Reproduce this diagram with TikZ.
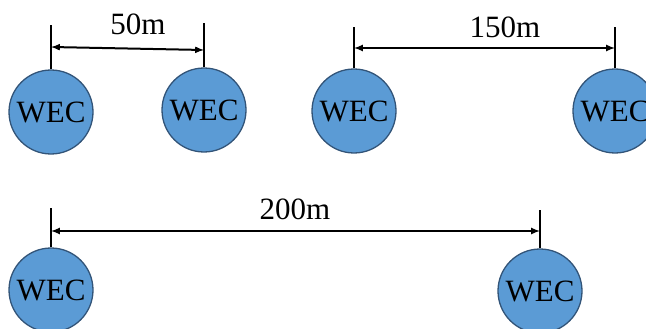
\documentclass[tikz,border=0pt]{standalone}
\usepackage{fontspec}
\setmainfont{Liberation Serif}
\usepackage{tikz}
\usetikzlibrary{calc}

\definecolor{wecfill}{RGB}{91,155,213}
\definecolor{wecdraw}{RGB}{50,84,120}

\tikzset{
  wec/.style={circle, draw=wecdraw, line width=1.3pt, fill=wecfill,
    minimum size=84pt, inner sep=0pt, font=\fontsize{31}{31}\selectfont},
  tick/.style={line width=1.6pt},
  dimline/.style={line width=2pt, <->, >=latex},
  dimlabel/.style={font=\fontsize{31}{31}\selectfont, inner sep=0pt}
}

\begin{document}
\begin{tikzpicture}[x=1pt,y=-1pt]
				\useasboundingbox (0,0) rectangle (646,329);
				\clip (0,0) rectangle (646,329);
				% WEC bodies
				\node[wec] (w1) at (51,112) {WEC};
				\node[wec] (w2) at (204,110) {WEC};
				\node[wec] (w3) at (354,111) {WEC};
				\node[wec] (w4) at (615,111) {WEC};
				\node[wec] (w5) at (51,290) {WEC};
				\node[wec] (w6) at (540,291) {WEC};
				% tick tops
				\coordinate (t1) at (51,25);
				\coordinate (t2) at (204,23);
				\coordinate (t3) at (354,27);
				\coordinate (t4) at (615,27);
				\coordinate (t5) at (51,208);
				\coordinate (t6) at (540,210);
				\draw[tick] (w1.north)--(t1);
				\draw[tick] (w2.north)--(t2);
				\draw[tick] (w3.north)--(t3);
				\draw[tick] (w4.north)--(t4);
				\draw[tick] (w5.north)--(t5);
				\draw[tick] (w6.north)--(t6);
				% dimension arrows
				\coordinate (a1) at (51,47);
				\coordinate (b1) at (204,50);
				\coordinate (a2) at (354,48);
				\coordinate (b2) at (615,48);
				\coordinate (a3) at (51,231);
				\coordinate (b3) at (540,231);
				\draw[dimline] (a1)--(b1);
				\draw[dimline] (a2)--(b2);
				\draw[dimline] (a3)--(b3);
				\node[dimlabel] (d1) at (138,24) {50m};
				\node[dimlabel] (d2) at (505,27) {150m};
				\node[dimlabel] (d3) at (295,209) {200m};
			\end{tikzpicture}
\end{document}
